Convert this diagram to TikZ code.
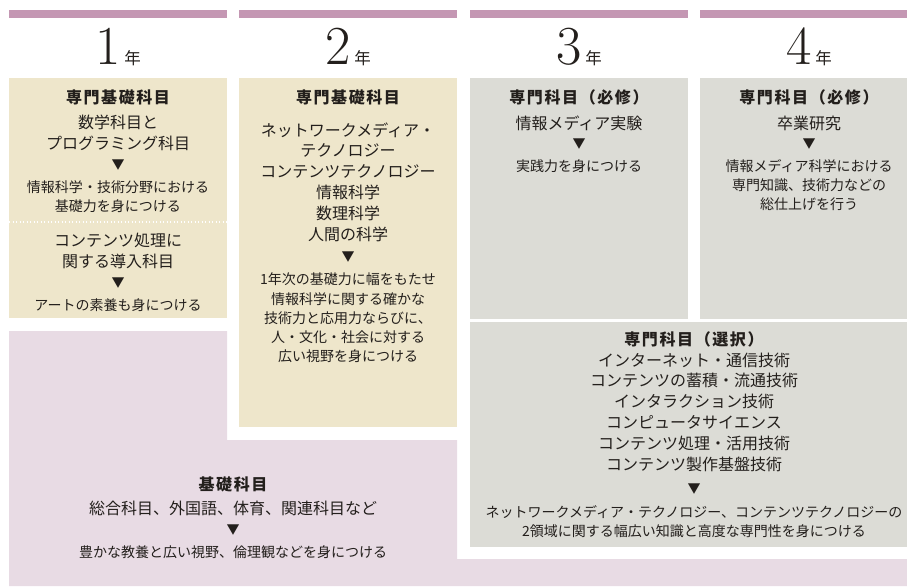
\documentclass[tikz,border=0pt]{standalone}
\usepackage{fontspec}
\newfontfamily\jp{Noto Sans CJK JP}
\definecolor{barc}{HTML}{C497B3}
\definecolor{beige}{HTML}{EEE6CB}
\definecolor{grayb}{HTML}{DCDCD6}
\definecolor{pinkb}{HTML}{E8DBE4}
\definecolor{txt}{HTML}{231F1C}
\begin{document}
\begin{tikzpicture}[x=1pt,y=-1pt,
  every node/.style={inner sep=0pt, text=txt},
  ttl/.style={font=\jp\bfseries\fontsize{16}{20}\selectfont\addfontfeature{LetterSpace=10}},
  body/.style={font=\jp\fontsize{16}{20.8}\selectfont, align=center},
  small/.style={font=\jp\fontsize{14}{19.3}\selectfont, align=center},
  tri/.style={font=\jp\fontsize{13}{13}\selectfont},
  yr/.style={anchor=base}]
\useasboundingbox (0,0) rectangle (907,586);
% backgrounds
\fill[pinkb] (9,331) -- (227,331) -- (227,440) -- (457,440) -- (457,559) -- (907,559) -- (907,586) -- (9,586) -- cycle;
\fill[beige] (9,78) rectangle (227,318);
\fill[beige] (239,78) rectangle (457,427);
\fill[grayb] (470,78) rectangle (688,319);
\fill[grayb] (700,78) rectangle (907,319);
\fill[grayb] (470,322) rectangle (907,547);
\fill[barc] (9,10) rectangle (227,18);
\fill[barc] (239,10) rectangle (457,18);
\fill[barc] (470,10) rectangle (688,18);
\fill[barc] (700,10) rectangle (907,18);
\draw[white, line width=1.3pt, dash pattern=on 1.3pt off 2.2pt] (9,222) -- (227,222);
% years
\node[yr] (y1) at (118,65) {{\fontsize{55}{55}\selectfont 1}\hspace{4pt}{\jp\fontsize{16.5}{16.5}\selectfont 年}};
\node[yr] (y2) at (348,65) {{\fontsize{55}{55}\selectfont 2}\hspace{4pt}{\jp\fontsize{16.5}{16.5}\selectfont 年}};
\node[yr] (y3) at (579,65) {{\fontsize{55}{55}\selectfont 3}\hspace{4pt}{\jp\fontsize{16.5}{16.5}\selectfont 年}};
\node[yr] (y4) at (809,65) {{\fontsize{55}{55}\selectfont 4}\hspace{4pt}{\jp\fontsize{16.5}{16.5}\selectfont 年}};
% column 1
\node[ttl] (t1) at (118,97) {専門基礎科目};
\node[body] (b1a) at (118,133) {数学科目と\\プログラミング科目};
\node[tri] (a1a) at (118,165) {▼};
\node[small] (r1a) at (118,196.5) {情報科学・技術分野における\\基礎力を身につける};
\node[body] (b1b) at (118,251) {コンテンツ処理に\\関する導入科目};
\node[tri] (a1b) at (118,283) {▼};
\node[small] (r1b) at (118,305) {アートの素養も身につける};
% column 2
\node[ttl] (t2) at (348,97) {専門基礎科目};
\node[body] (b2) at (348,182) {ネットワークメディア・\\テクノロジー\\コンテンツテクノロジー\\情報科学\\数理科学\\人間の科学};
\node[tri] (a2) at (348,257) {▼};
\node[small] (r2) at (348,318) {1年次の基礎力に幅をもたせ\\情報科学に関する確かな\\技術力と応用力ならびに、\\人・文化・社会に対する\\広い視野を身につける};
% column 3
\node[ttl] (t3) at (579,97) {専門科目（必修）};
\node[body] (b3) at (579,123) {情報メディア実験};
\node[tri] (a3) at (579,144) {▼};
\node[small] (r3) at (579,166) {実践力を身につける};
% column 4
\node[ttl] (t4) at (809,97) {専門科目（必修）};
\node[body] (b4) at (809,123) {卒業研究};
\node[tri] (a4) at (809,144) {▼};
\node[small] (r4) at (809,185) {情報メディア科学における\\専門知識、技術力などの\\総仕上げを行う};
% elective
\node[ttl] (t5) at (694,339) {専門科目（選択）};
\node[body] (b5) at (694,412) {インターネット・通信技術\\コンテンツの蓄積・流通技術\\インタラクション技術\\コンピュータサイエンス\\コンテンツ処理・活用技術\\コンテンツ製作基盤技術};
\node[tri] (a5) at (694,489) {▼};
\node[small] (r5) at (694,521.5) {ネットワークメディア・テクノロジー、コンテンツテクノロジーの\\2領域に関する幅広い知識と高度な専門性を身につける};
% base
\node[ttl] (t6) at (233,484) {基礎科目};
\node[body] (b6) at (233,508) {総合科目、外国語、体育、関連科目など};
\node[tri] (a6) at (233,530) {▼};
\node[small] (r6) at (233,552) {豊かな教養と広い視野、倫理観などを身につける};
\end{tikzpicture}
\end{document}
